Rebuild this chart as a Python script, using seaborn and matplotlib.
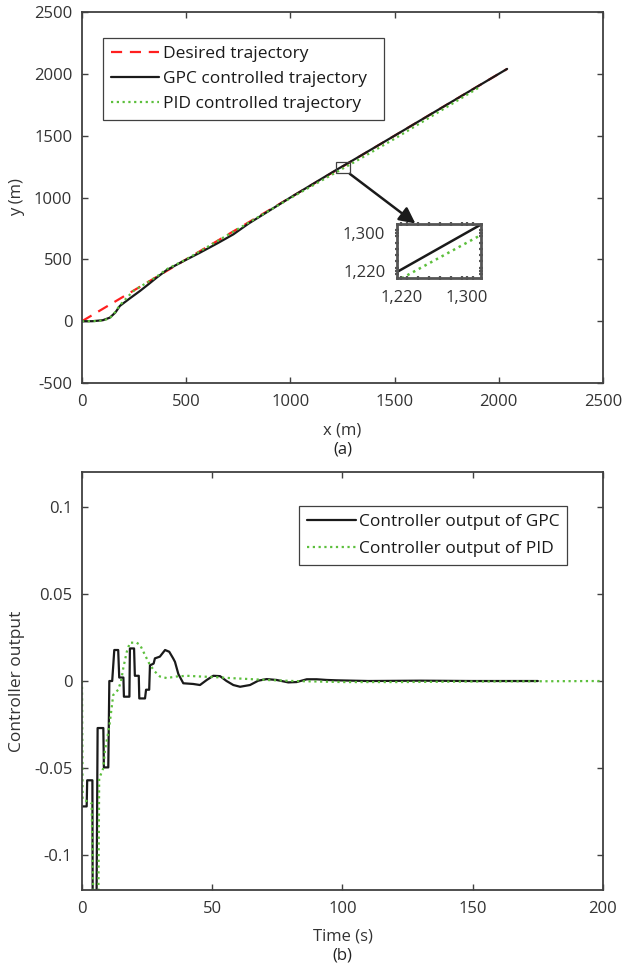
import matplotlib
matplotlib.use("Agg")
import matplotlib.pyplot as plt
import matplotlib.ticker as ticker
from matplotlib.patches import Rectangle
import numpy as np
import pandas as pd
import seaborn as sns

# --- (a) trajectories, x / y in metres ---
des_x = [0, 500, 1000, 1500, 2040]
des_y = [0, 500, 1000, 1500, 2040]

gpc_x = [0, 50, 100, 134, 160, 182, 230, 278, 320, 358, 406, 480, 566, 650, 726,
         800, 1000, 1215, 1317, 1500, 2040]
gpc_y = [0, 0, 8, 29, 70, 124, 185, 244, 300, 352, 413, 480, 554, 630, 702,
         790, 1000, 1218, 1318, 1500, 2040]

pid_x = [0, 50, 100, 134, 160, 182, 246, 300, 358, 406, 500, 1000, 1221, 1317,
         1500, 1910]
pid_y = [0, 0, 5, 25, 75, 130, 244, 300, 360, 420, 500, 995, 1205, 1296,
         1475, 1895]

# --- (b) controller output vs time (s) ---
gpc_t = [0, 1.8, 2.0, 4.0, 4.1, 5.6, 6.0, 8.2, 8.4, 10.1, 10.5, 11.6, 12.4, 13.9,
         14.3, 15.9, 16.1, 18.2, 18.4, 20.0, 20.3, 21.8, 22.0, 24.2, 24.6, 25.8,
         26.1, 27.5, 28.0, 29.9, 31.9, 33.5, 35.0, 35.7, 37.0, 38.9, 42.7, 45.3,
         47.9, 50.4, 53.0, 55.5, 58.1, 60.7, 64.5, 67.7, 70.9, 74.7, 79.2, 82.4,
         86.3, 90.1, 94.0, 97.8, 110, 130, 150, 175]
gpc_u = [-0.072, -0.072, -0.057, -0.057, -0.125, -0.125, -0.027, -0.027, -0.0496,
         -0.0496, 0.0, 0.0, 0.0178, 0.0178, 0.002, 0.002, -0.009, -0.009, 0.0187,
         0.0187, 0.003, 0.003, -0.010, -0.010, -0.005, -0.005, 0.009, 0.010, 0.013,
         0.014, 0.0178, 0.0168, 0.013, 0.011, 0.004, -0.0013, -0.0017, -0.0023,
         0.0006, 0.003, 0.0028, 0.0, -0.0023, -0.0033, -0.0023, 0.0002, 0.0011,
         0.0006, -0.0008, -0.0006, 0.0010, 0.0010, 0.0006, 0.0004, 0.0, 0.0002,
         0.0, 0.0]

pid_t = [0, 0.25, 3.7, 4.35, 6.3, 6.6, 8.2, 8.8, 10.5, 12.0, 13.9, 15.0, 15.9, 17.2,
         18.4, 21.0, 22.3, 24.2, 26.1, 28.0, 29.9, 32.5, 36.4, 40.2, 45.3, 50.4,
         56.8, 63.2, 70.9, 81.1, 100, 122, 150, 200]
pid_u = [0, -0.068, -0.070, -0.125, -0.125, -0.056, -0.050, -0.040, -0.026, -0.008,
         -0.005, 0.0, 0.0078, 0.0168, 0.022, 0.022, 0.0207, 0.0149, 0.0092, 0.0054,
         0.0026, 0.0017, 0.0026, 0.003, 0.0026, 0.0023, 0.0017, 0.0012, 0.0006,
         0.0, -0.0006, -0.0006, -0.0003, 0.0]

RED = "#ff1f1f"
BLACK = "#1a1a1a"
GREEN = "#5cbf3c"
AXC = "#404040"

sns.set_style("ticks")
plt.rcParams.update({
    "font.family": ["Open Sans", "DejaVu Sans"],
    "font.size": 12,
    "axes.unicode_minus": False,
    "axes.edgecolor": AXC,
    "axes.linewidth": 1.3,
    "xtick.color": AXC,
    "ytick.color": AXC,
    "xtick.labelcolor": "#333333",
    "ytick.labelcolor": "#333333",
    "axes.labelcolor": "#333333",
    "xtick.direction": "in",
    "ytick.direction": "in",
    "xtick.major.size": 4,
    "ytick.major.size": 4,
    "xtick.major.width": 1.0,
    "ytick.major.width": 1.0,
    "xtick.major.pad": 8,
    "ytick.major.pad": 7,
})


def style_box(ax):
    for s in ax.spines.values():
        s.set_visible(True)
        s.set_color(AXC)
    ax.tick_params(top=True, right=True, labelsize=12)


def legend_box(ax, spacing, **kw):
    leg = ax.legend(frameon=True, fancybox=False, framealpha=1, fontsize=12.5,
                    handlelength=2.8, handletextpad=0.2, labelspacing=spacing,
                    borderpad=0.45, borderaxespad=0, mode="expand", **kw)
    leg.get_frame().set_edgecolor(AXC)
    leg.get_frame().set_linewidth(0.9)
    for t in leg.get_texts():
        t.set_color("#1a1a1a")
    return leg


fig = plt.figure(figsize=(6.22, 9.69), dpi=100)
ax1 = fig.add_axes([0.1318, 0.6047, 0.8376, 0.3829])
ax2 = fig.add_axes([0.1318, 0.0815, 0.8376, 0.4314])

traj_des = pd.DataFrame({"x": des_x, "y": des_y})
traj_gpc = pd.DataFrame({"x": gpc_x, "y": gpc_y})
traj_pid = pd.DataFrame({"x": pid_x, "y": pid_y})

sns.lineplot(data=traj_des, x="x", y="y", ax=ax1, sort=False, estimator=None,
             color=RED, lw=1.6, linestyle=(0, (5, 3.5)), label="Desired trajectory")
sns.lineplot(data=traj_gpc, x="x", y="y", ax=ax1, sort=False, estimator=None,
             color=BLACK, lw=1.6, label="GPC controlled trajectory")
sns.lineplot(data=traj_pid, x="x", y="y", ax=ax1, sort=False, estimator=None,
             color=GREEN, lw=1.6, linestyle=(0, (1, 1.6)), label="PID controlled trajectory")

ax1.set_xlim(0, 2500)
ax1.set_ylim(-500, 2500)
ax1.set_xticks(np.arange(0, 2501, 500))
ax1.set_yticks(np.arange(-500, 2501, 500))
style_box(ax1)
ax1.set_xlabel("x (m)", fontsize=12)
ax1.set_ylabel("y (m)", fontsize=12)
ax1.xaxis.set_label_coords(0.5, -0.105)
ax1.yaxis.set_label_coords(-0.11, 0.5)
legend_box(ax1, 0.52, loc="upper left", bbox_to_anchor=(0.04, 0.0, 0.539, 0.93))

# zoom window + inset
ax1.add_patch(Rectangle((1220, 1195), 65, 90, fill=False, edgecolor=AXC, lw=0.9, zorder=6))
ax1.annotate("", xy=(1600, 790), xytext=(1285, 1192),
             arrowprops=dict(arrowstyle="-|>", color=BLACK, lw=1.8,
                             mutation_scale=24, shrinkA=0, shrinkB=0))

axin = ax1.inset_axes([0.605, 0.283, 0.161, 0.1456])
sns.lineplot(data=traj_gpc, x="x", y="y", ax=axin, sort=False, estimator=None,
             color=BLACK, lw=1.8, legend=False)
sns.lineplot(data=traj_pid, x="x", y="y", ax=axin, sort=False, estimator=None,
             color=GREEN, lw=1.8, linestyle=(0, (1, 1.6)), legend=False)
axin.set_xlim(1215, 1317)
axin.set_ylim(1205, 1319)
axin.set_xticks([1220, 1300])
axin.set_yticks([1220, 1300])
comma = ticker.FuncFormatter(lambda v, p: f"{v:,.0f}")
axin.xaxis.set_major_formatter(comma)
axin.yaxis.set_major_formatter(comma)
axin.xaxis.set_minor_locator(ticker.MultipleLocator(80 / 6))
axin.yaxis.set_minor_locator(ticker.MultipleLocator(80 / 6))
axin.set_xlabel("")
axin.set_ylabel("")
for s in axin.spines.values():
    s.set_visible(True)
    s.set_color("#555555")
    s.set_linewidth(2.0)
axin.tick_params(which="both", direction="inout", length=3, width=1.6, color="#555555",
                 top=True, right=True, labelsize=12, pad=7)

# --- (b) ---
ctrl_gpc = pd.DataFrame({"t": gpc_t, "u": gpc_u})
ctrl_pid = pd.DataFrame({"t": pid_t, "u": pid_u})
sns.lineplot(data=ctrl_gpc, x="t", y="u", ax=ax2, sort=False, estimator=None,
             color=BLACK, lw=1.6, label="Controller output of GPC")
sns.lineplot(data=ctrl_pid, x="t", y="u", ax=ax2, sort=False, estimator=None,
             color=GREEN, lw=1.6, linestyle=(0, (1, 1.6)), label="Controller output of PID")
ax2.set_xlim(0, 200)
ax2.set_ylim(-0.12, 0.12)
ax2.set_xticks(np.arange(0, 201, 50))
ax2.set_yticks([-0.1, -0.05, 0, 0.05, 0.1])
ax2.yaxis.set_major_formatter(ticker.FuncFormatter(lambda v, p: f"{v:g}"))
style_box(ax2)
ax2.set_xlabel("Time (s)", fontsize=12)
ax2.set_ylabel("Controller output", fontsize=12.5)
ax2.xaxis.set_label_coords(0.5, -0.092)
ax2.yaxis.set_label_coords(-0.11, 0.5)
legend_box(ax2, 0.65, loc="upper right", bbox_to_anchor=(0.417, 0.0, 0.514, 0.919))

fig.text(0.5 * (0.1318 * 2 + 0.8376), 1 - 449 / 969, "(a)", ha="center", va="center",
         fontsize=12, color="#222222")
fig.text(0.5 * (0.1318 * 2 + 0.8376), 1 - 955 / 969, "(b)", ha="center", va="center",
         fontsize=12, color="#222222")

fig.savefig("out.png", dpi=100)
